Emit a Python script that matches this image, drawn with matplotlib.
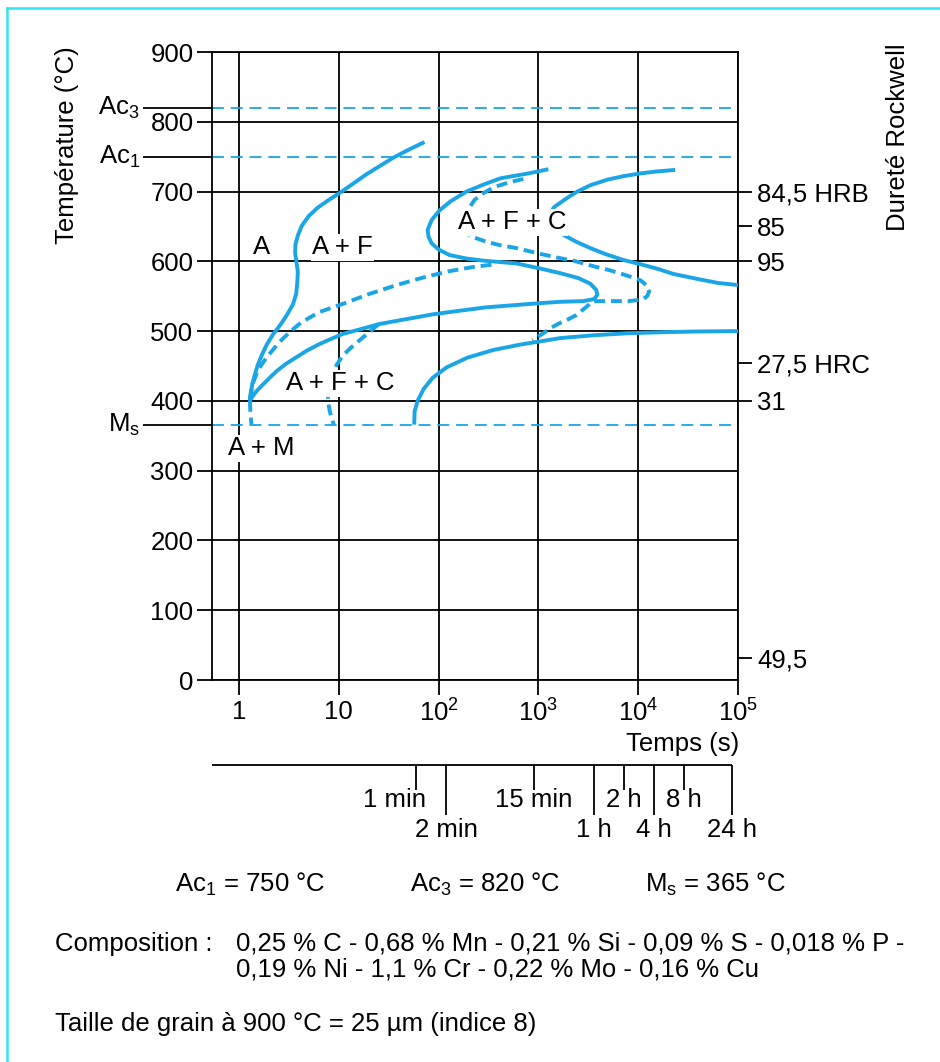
import numpy as np
import matplotlib
matplotlib.use("Agg")
import matplotlib.pyplot as plt
import matplotlib.transforms as mtransforms
from matplotlib.ticker import NullLocator

plt.rcParams['font.family'] = ['Liberation Sans', 'DejaVu Sans']
plt.rcParams['mathtext.fontset'] = 'custom'
plt.rcParams['mathtext.rm'] = 'Liberation Sans'
plt.rcParams['mathtext.it'] = 'Liberation Sans:italic'
plt.rcParams['mathtext.bf'] = 'Liberation Sans:bold'
plt.rcParams['mathtext.default'] = 'rm'

# ---------------- data ----------------
temp_ticks = [0, 100, 200, 300, 400, 500, 600, 700, 800, 900]
time_decades = [0, 1, 2, 3, 4, 5]
time_tick_labels = ['1', '10', r'$10^2$', r'$10^3$', r'$10^4$', r'$10^5$']

crit_labels = [r'Ac$_3$', r'Ac$_1$', r'M$_\mathrm{s}$']
crit_temps = [820, 750, 365]

hard_temps = [700, 650, 600, 455, 400, 32]
hard_labels = ['84,5 HRB', '85', '95', '27,5 HRC', '31', '49,5']

bar_seconds = [60, 120, 900, 3600, 7200, 14400, 28800, 86400]
bar_labels = ['1 min', '2 min', '15 min', '1 h', '2 h', '4 h', '8 h', '24 h']
bar_long = [False, True, False, True, False, True, False, True]

# curves : log10(time in s) and temperature (°C)
c1_logt = [1.86, 1.70, 1.54, 1.28, 1.03, 0.90, 0.79, 0.70, 0.63, 0.59, 0.566, 0.563, 0.575,
           0.59, 0.585, 0.573, 0.54, 0.484, 0.42, 0.34, 0.28, 0.233, 0.19, 0.16, 0.135, 0.118, 0.107]
c1_T = [771, 760, 748, 725, 700, 688, 677, 665, 651, 637, 624, 612, 600,
        585, 570, 553, 538, 524, 510, 495, 481, 467, 452, 438, 425, 412, 400]

c2_logt = [0.11, 0.14, 0.19, 0.28, 0.41, 0.52, 0.62, 0.80, 1.04, 1.30, 1.58, 1.85, 2.11, 2.35, 2.58]
c2_T = [402, 425, 444, 463, 485, 500, 512, 527, 539, 553, 566, 577, 586, 592, 596]

c3_logt = [3.10, 2.90, 2.62, 2.45, 2.28, 2.12, 2.01, 1.93, 1.89, 1.90, 1.93, 2.00, 2.11, 2.28,
           2.45, 2.78, 3.01, 3.22, 3.40, 3.52, 3.58, 3.59, 3.56, 3.45, 3.22, 3.01, 2.74, 2.47,
           2.20, 1.94, 1.67, 1.40, 1.20, 1.04, 0.91, 0.80, 0.68, 0.58, 0.47, 0.38, 0.30, 0.23,
           0.17, 0.135, 0.11]
c3_T = [732, 726, 719, 710, 700, 686, 673, 659, 645, 635, 626, 617, 609, 604,
        601, 597, 590, 583, 576, 568, 559, 552, 546, 543, 542, 540, 537, 534,
        529, 524, 517, 510, 502, 496, 488, 481, 472, 463, 453, 443, 432, 422,
        413, 406, 400]

c4_logt = [2.85, 2.70, 2.55, 2.44, 2.36, 2.30, 2.26, 2.25, 2.28, 2.36, 2.48, 2.62, 2.78, 3.01,
           3.20, 3.35, 3.55, 3.72, 3.88, 4.02, 4.09, 4.11, 4.09, 4.04, 3.90, 3.72, 3.55, 3.50,
           3.44, 3.38, 3.30, 3.22, 3.13, 3.05, 2.94]
c4_T = [718, 713, 706, 697, 688, 675, 662, 650, 640, 634, 628, 623, 619, 611,
        605, 601, 593, 587, 580, 573, 565, 557, 550, 545, 543, 543, 543, 537,
        530, 523, 517, 512, 505, 497, 487]

c5_logt = [1.756, 1.76, 1.79, 1.85, 1.94, 2.08, 2.29, 2.55, 2.83, 3.05, 3.22, 3.55, 3.90, 4.27, 4.60, 5.0]
c5_T = [366, 385, 400, 417, 433, 448, 462, 473, 481, 486, 490, 494, 497, 498.5, 499.5, 500]

c6_logt = [1.40, 1.30, 1.21, 1.12, 1.04, 0.98, 0.93, 0.90, 0.89, 0.895, 0.91, 0.93, 0.95]
c6_T = [510, 498, 487, 476, 465, 452, 438, 424, 410, 397, 385, 375, 366]

c7_logt = [0.11, 0.115, 0.125]
c7_T = [400, 383, 366]

c8_logt = [4.37, 4.20, 4.02, 3.85, 3.69, 3.52, 3.39, 3.30, 3.22, 3.16, 3.12, 3.11, 3.14, 3.19,
           3.25, 3.38, 3.52, 3.68, 3.85, 4.02, 4.20, 4.35, 4.62, 4.80, 5.0]
c8_T = [731, 729, 726, 722, 717, 709, 700, 692, 684, 678, 670, 657, 647, 642,
        638, 628, 619, 610, 602, 596, 589, 582, 574, 569, 566]

region_labels = ['A', 'A + F', 'A + F + C', 'A + F + C', 'A + M']
region_logt = [0.23, 1.04, 2.74, 1.01, 0.22]
region_T = [620, 620, 656, 425, 332]
region_boxed = [False, True, True, True, True]

# ---------------- figure ----------------
W, H = 940, 1062
fig = plt.figure(figsize=(W / 100, H / 100), dpi=100)
fig.patch.set_facecolor('white')


def fx(px):
    return px / W


def fy(py):
    return 1 - py / H


BLUE = '#1aa5e6'
CYAN = '#2ee6f2'
LW = 1.3
FS = 18.5

x_left_px, x_right_px, y_top_px, y_bot_px = 212, 738, 52, 680
xmin = 10 ** (-0.27)

ax = fig.add_axes([fx(x_left_px), fy(y_bot_px), (x_right_px - x_left_px) / W, (y_bot_px - y_top_px) / H])
ax.set_xscale('log')
ax.set_xlim(xmin, 1e5)
ax.set_ylim(0, 900)
ax.set_xticks([10.0 ** d for d in time_decades])
ax.set_xticklabels(time_tick_labels)
ax.xaxis.set_minor_locator(NullLocator())
ax.set_yticks(temp_ticks)
ax.set_yticklabels([str(v) for v in temp_ticks])
ax.tick_params(axis='both', direction='out', length=10.8, width=LW, labelsize=FS, color='black')
ax.tick_params(axis='x', pad=3.5)
ax.tick_params(axis='y', pad=2.5)
ax.grid(True, which='major', color='black', lw=LW)
ax.set_axisbelow(True)
for s in ax.spines.values():
    s.set_linewidth(LW)
    s.set_color('black')

# right hardness axis
axr = ax.twinx()
axr.set_ylim(0, 900)
axr.set_yticks(hard_temps)
axr.set_yticklabels(hard_labels)
axr.tick_params(axis='y', direction='out', length=10.3, width=LW, labelsize=FS, pad=3.5)
for s in axr.spines.values():
    s.set_visible(False)

# critical temperatures
blend = mtransforms.blended_transform_factory(ax.transAxes, ax.transData)
for lab, v in zip(crit_labels, crit_temps):
    ax.axhline(v, color=BLUE, lw=LW, dashes=(6.6, 3.8), zorder=1.5)
    ax.plot([-0.131, 0], [v, v], transform=blend, color='black', lw=LW, clip_on=False,
            solid_capstyle='butt')
    ax.text(-0.137, v, lab, transform=blend, ha='right', va='center', fontsize=FS)

# curves
CLW = 2.8
DASH = (2.8, 1.5)


def draw(logt, T, dashed=False):
    t = 10.0 ** np.asarray(logt)
    kw = dict(color=BLUE, lw=CLW, solid_joinstyle='round', dash_joinstyle='round', zorder=3)
    if dashed:
        ax.plot(t, T, dashes=DASH, dash_capstyle='butt', **kw)
    else:
        ax.plot(t, T, solid_capstyle='butt', **kw)


draw(c1_logt, c1_T)
draw(c2_logt, c2_T, dashed=True)
draw(c3_logt, c3_T)
draw(c4_logt, c4_T, dashed=True)
draw(c5_logt, c5_T)
draw(c6_logt, c6_T, dashed=True)
draw(c7_logt, c7_T, dashed=True)
draw(c8_logt, c8_T)

for lab, lt, T, boxed in zip(region_labels, region_logt, region_T, region_boxed):
    kw = {}
    if boxed:
        kw['bbox'] = dict(boxstyle='square,pad=0.05', fc='white', ec='none')
    ax.text(10.0 ** lt, T, lab, ha='center', va='center', fontsize=FS, zorder=6, **kw)

# axis titles
fig.text(fx(67), fy(145), 'Température (°C)', rotation=90, ha='center', va='center', fontsize=FS)
fig.text(fx(898), fy(137), 'Dureté Rockwell', rotation=90, ha='center', va='center', fontsize=FS)
fig.text(fx(739), fy(751), 'Temps (s)', ha='right', va='baseline', fontsize=FS)

# time bar (min / h)
axt = fig.add_axes([fx(x_left_px), fy(845), (x_right_px - x_left_px) / W, 80 / H])
axt.set_xscale('log')
axt.set_xlim(xmin, 1e5)
axt.set_ylim(845, 765)
axt.axis('off')
axt.plot([xmin, bar_seconds[-1]], [765, 765], color='black', lw=LW, solid_capstyle='butt', clip_on=False)
for s, lab, lg in zip(bar_seconds, bar_labels, bar_long):
    yend = 815 if lg else 790
    axt.plot([s, s], [765, yend], color='black', lw=LW, solid_capstyle='butt', clip_on=False)
    ybase = 837 if lg else 807
    dx = -16 if lab == '1 min' else 0
    axt.annotate(lab, (s, ybase), xytext=(dx, 0), textcoords='offset points',
                 ha='center', va='baseline', fontsize=FS, annotation_clip=False)

# bottom texts
fig.text(fx(175), fy(892), r'Ac$_1$ = 750 °C', ha='left', va='baseline', fontsize=FS)
fig.text(fx(410), fy(892), r'Ac$_3$ = 820 °C', ha='left', va='baseline', fontsize=FS)
fig.text(fx(645), fy(892), r'M$_\mathrm{s}$ = 365 °C', ha='left', va='baseline', fontsize=FS)
fig.text(fx(55), fy(951), 'Composition :', ha='left', va='baseline', fontsize=FS)
fig.text(fx(236), fy(951), '0,25 % C - 0,68 % Mn - 0,21 % Si - 0,09 % S - 0,018 % P -',
         ha='left', va='baseline', fontsize=FS)
fig.text(fx(236), fy(977), '0,19 % Ni - 1,1 % Cr - 0,22 % Mo - 0,16 % Cu',
         ha='left', va='baseline', fontsize=FS)
fig.text(fx(55), fy(1031), 'Taille de grain à 900 °C = 25 µm (indice 8)',
         ha='left', va='baseline', fontsize=FS)

# cyan frame (top and left)
fig.add_artist(plt.Line2D([fx(7), fx(940)], [fy(8), fy(8)], color=CYAN, lw=1.8, transform=fig.transFigure))
fig.add_artist(plt.Line2D([fx(7), fx(7)], [fy(8), fy(1062)], color=CYAN, lw=1.8, transform=fig.transFigure))

fig.savefig('out.png', dpi=100, facecolor='white')
